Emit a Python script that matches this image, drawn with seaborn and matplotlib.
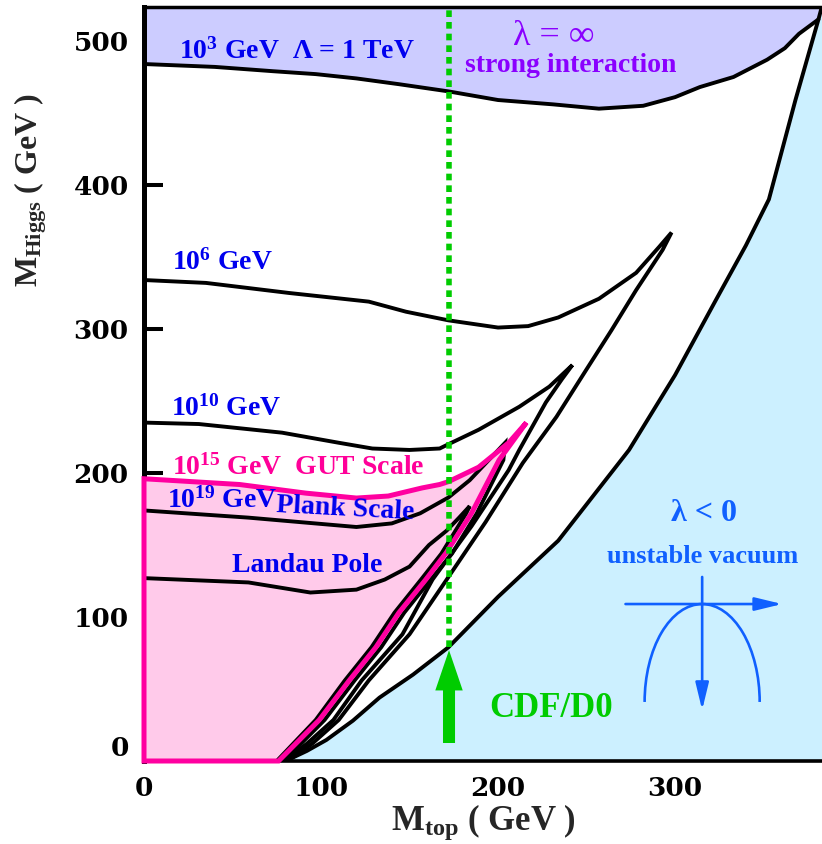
import numpy as np
import matplotlib
matplotlib.use('Agg')
from matplotlib import pyplot as plt
from matplotlib.patches import Arc, FancyArrow
import seaborn as sns

# --- values: M_top (GeV) vs M_Higgs (GeV) ---
# Lambda = 10^3 GeV: triviality (upper) and vacuum stability (lower) bounds
lam3_top_x = [0, 40, 73, 97, 120, 144, 172, 200, 231, 257, 282, 300, 314, 333, 352, 362, 370, 381]
lam3_top_y = [484, 482, 479, 477, 474, 470, 465, 459, 456, 453, 455, 461, 468, 475, 487, 495, 505, 515]
lam3_low_x = [80, 92, 103, 118, 133, 152, 172, 200, 234, 274, 300, 323, 340, 353, 368, 381, 386]
lam3_low_y = [0, 7, 14.6, 28, 44, 60, 79, 114, 153, 216, 268, 320, 358, 390, 459, 515, 538]

# Lambda = 10^6 GeV
lam6_top_x = [0, 35, 82, 127, 148, 172, 200, 217, 234, 257, 278, 291, 298]
lam6_top_y = [334, 332, 325, 319, 312, 306, 301, 302, 308, 321, 339, 357, 367]
lam6_low_x = [298, 293, 278, 264, 250, 233, 214, 193, 171, 150, 127, 110, 95, 81]
lam6_low_y = [367, 355, 327, 299, 272, 239, 207, 166, 126, 88, 56, 28.5, 12, 0]

# Lambda = 10^10 GeV
lam10_top_x = [0, 31, 78, 110, 129, 150, 167, 172, 189, 212, 229, 242]
lam10_top_y = [235, 234, 228, 221, 217, 216, 217, 220, 230, 246, 260, 275]
lam10_low_x = [242, 236, 227, 212, 206, 185, 163, 146, 123, 107, 92, 79]
lam10_low_y = [275, 265, 249, 216, 202, 163, 126, 88, 56, 28.5, 12, 0]

# Lambda = 10^15 GeV (GUT scale), shaded region
gut_top_x = [0, 54, 91.5, 120, 138, 157, 167, 172, 189, 206, 216]
gut_top_y = [196, 192, 186, 182.6, 184, 189.6, 192, 194, 204, 221, 235]
gut_low_x = [216, 200.6, 185, 170.6, 159, 144, 131, 116, 99, 76, 0]
gut_low_y = [235, 209, 172, 144.4, 125.7, 103, 79, 56, 28.5, 0, 0]

# Lambda = 10^19 GeV (Planck scale)
lam19_top_x = [0, 59, 120, 140, 156, 172, 184, 204]
lam19_top_y = [174, 169, 162.5, 165, 172, 183, 195, 221]
lam19_low_x = [204, 203, 188, 174, 162, 147, 134, 119, 102, 79]
lam19_low_y = [221, 209, 172, 144, 126, 103, 79, 56, 28.5, 0]

# lowest curve (Landau pole)
landau_top_x = [0, 59, 94, 120, 136, 150, 161, 171, 178, 184]
landau_top_y = [127, 124, 117, 119, 126, 135, 150, 160, 169, 177]
landau_low_x = [184, 182, 168, 156.5, 141.5, 128.5, 113.5, 97, 75]
landau_low_y = [177, 172, 144, 126, 103, 79, 56, 28.5, 0]

# CDF/D0 top mass and the point where the marker line starts
cdf_mt = 172.3
cdf_mh_from = 79
cdf_arrow_y = [12.5, 77]

xticks = [0, 100, 200, 300]
yticks = [0, 100, 200, 300, 400, 500]

sns.set_theme(style='ticks')
plt.rcParams['font.family'] = ['Liberation Serif', 'DejaVu Serif']
plt.rcParams['font.weight'] = 'bold'
plt.rcParams['mathtext.fontset'] = 'custom'
plt.rcParams['mathtext.rm'] = 'Liberation Serif:bold'
plt.rcParams['mathtext.it'] = 'Liberation Serif:bold'
plt.rcParams['mathtext.bf'] = 'Liberation Serif:bold'

fig = plt.figure(figsize=(8.22, 8.44), dpi=100)
ax = fig.add_axes([144 / 822, 83 / 844, 678 / 822, 754 / 844])
ax.set_xlim(0, 383)
ax.set_ylim(0, 523.6)

# shaded regions
ax.fill_between(lam3_top_x, lam3_top_y, 540, color='#ccccff', lw=0, zorder=1)
ax.fill_between(lam3_low_x, 0, lam3_low_y, color='#ccf0ff', lw=0, zorder=1)
ax.fill(gut_top_x + gut_low_x, gut_top_y + gut_low_y, facecolor='#ffcaea',
        edgecolor='none', zorder=3)

# bound curves
black_curves = [
    (lam3_top_x, lam3_top_y),
    (lam3_low_x, lam3_low_y),
    (lam6_top_x + lam6_low_x, lam6_top_y + lam6_low_y),
    (lam10_top_x + lam10_low_x, lam10_top_y + lam10_low_y),
    (lam19_top_x + lam19_low_x, lam19_top_y + lam19_low_y),
    (landau_top_x + landau_low_x, landau_top_y + landau_low_y),
]
for cx, cy in black_curves:
    sns.lineplot(x=cx, y=cy, sort=False, estimator=None, color='black', lw=2.8,
                 solid_joinstyle='miter', zorder=4, ax=ax)

ax.fill(gut_top_x + gut_low_x, gut_top_y + gut_low_y, facecolor='none',
        edgecolor='#ff00a0', lw=3.6, joinstyle='miter', zorder=5, clip_on=False)

# CDF/D0 marker
ax.axvline(cdf_mt, ymin=cdf_mh_from / 523.6, ymax=1, color='#00cc00', lw=4,
           dashes=(1.2, 0.9), dash_capstyle='butt', zorder=6)
ax.add_patch(FancyArrow(cdf_mt, cdf_arrow_y[0], 0, cdf_arrow_y[1] - cdf_arrow_y[0],
                        width=6.8, head_width=15.5, head_length=28,
                        length_includes_head=True, color='#00cc00', lw=0, zorder=6))
ax.text(195, 30.6, 'CDF/D0', color='#00cc00', fontsize=25, fontweight='bold',
        ha='left', va='baseline', zorder=7)

# unstable vacuum sketch
vac = '#1060ff'
ax.add_patch(Arc((315.3, 41), 65, 136, theta1=0, theta2=180, color=vac, lw=1.9, zorder=6))
arr = dict(arrowstyle='-|>,head_length=0.66,head_width=0.16', mutation_scale=25,
           color=vac, lw=1.9, shrinkA=0, shrinkB=0)
ax.annotate('', xy=(360.5, 109), xytext=(272, 109), arrowprops=arr, zorder=6)
ax.annotate('', xy=(315.3, 35.4), xytext=(315.3, 127.8), arrowprops=arr, zorder=6)
ax.text(316.4, 166.7, 'λ < 0', color=vac, fontsize=23, fontweight='bold',
        ha='center', va='baseline', zorder=7)
ax.text(315.3, 137.5, 'unstable vacuum', color=vac, fontsize=19, fontweight='bold',
        ha='center', va='baseline', zorder=7)

# strong interaction
purple = '#8a00ff'
ax.text(231.6, 497.5, 'λ = ∞', color=purple, fontsize=26, fontweight='normal',
        ha='center', va='baseline', zorder=7)
ax.text(241, 478.5, 'strong interaction', color=purple, fontsize=20,
        fontweight='bold', ha='center', va='baseline', zorder=7)

# curve labels
blue = '#0000ee'
pink = '#ff0099'
labels = [
    (20, 487.5, r'$10^{3}$ GeV  Λ = 1 TeV', blue, 0),
    (15.8, 341, r'$10^{6}$ GeV', blue, 0),
    (15.3, 240, r'$10^{10}$ GeV', blue, 0),
    (15.8, 198.6, r'$10^{15}$ GeV  GUT Scale', pink, 0),
    (13, 175.7, r'$10^{19}$ GeV', blue, 0),
    (74.6, 173, 'Plank Scale', blue, -3),
    (49.7, 131, 'Landau Pole', blue, 0),
]
for tx, ty, s, c, rot in labels:
    ax.text(tx, ty, s, color=c, fontsize=20, fontweight='bold', ha='left',
            va='baseline', rotation=rot, rotation_mode='anchor', zorder=7)

# axes styling
ax.set_xticks(xticks)
ax.set_yticks(yticks)
ax.tick_params(axis='x', direction='in', length=11, width=2.5, top=True,
               bottom=True, pad=11, colors='black')
ax.tick_params(axis='y', direction='in', length=14, width=2.9, left=True,
               right=False, pad=11, colors='black')
for lbl in ax.get_xticklabels() + ax.get_yticklabels():
    lbl.set_fontfamily('DejaVu Serif')
    lbl.set_fontweight('bold')
    lbl.set_fontsize(19)
ax.get_yticklabels()[0].set_va('bottom')

ax.spines['right'].set_visible(False)
ax.spines['left'].set_linewidth(3.6)
ax.spines['bottom'].set_linewidth(2.6)
ax.spines['top'].set_linewidth(2.5)
for sp in ['left', 'bottom', 'top']:
    ax.spines[sp].set_color('black')

ax.set_xlabel(r'$\mathrm{M}_{\mathrm{top}}$ ( GeV )', fontsize=25, fontweight='bold')
ax.set_ylabel(r'$\mathrm{M}_{\mathrm{Higgs}}$ ( GeV )', fontsize=23, fontweight='bold')
ax.xaxis.set_label_coords(0.5, -0.055)
ax.yaxis.set_label_coords(-0.140, 0.757)

fig.savefig('out.png', dpi=100, facecolor='white')
